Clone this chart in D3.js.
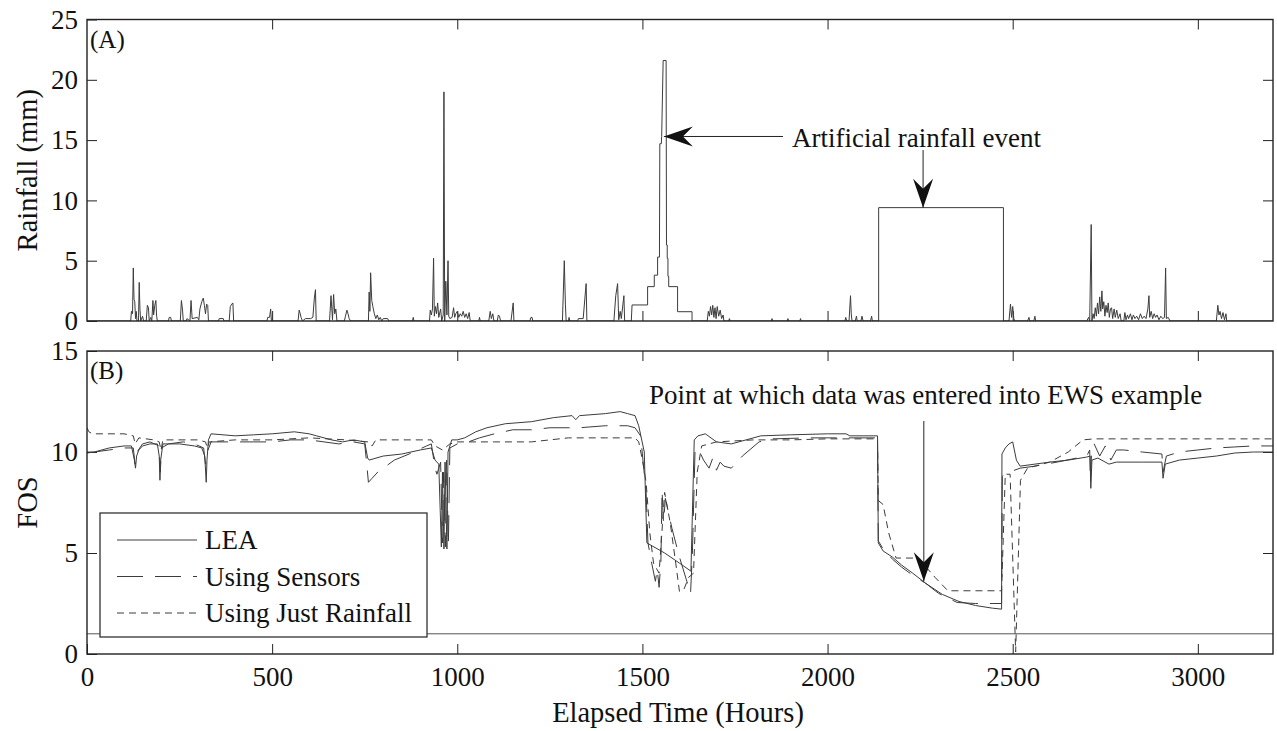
<!DOCTYPE html>
<html lang="en">
<head>
<meta charset="utf-8">
<title>Rainfall and FOS</title>
<script src="https://cdn.jsdelivr.net/npm/d3@7"></script>
<style>
body{
  margin: 0;
  background: #fff;
}
svg text{
  font-family: "Liberation Serif", "Times New Roman", serif;
  font-size: 27px;
  fill: #111;
}
.axis path.domain{ display: none; }
.axis line{ stroke: #222; stroke-width: 1; }
.frame{ fill: none; stroke: #222; stroke-width: 1.4; }
.series{ fill: none; stroke: #3c3c3c; stroke-width: 1; }
.label{ font-size: 28.5px; }
</style>
</head>
<body>
<svg id="chart" width="1277" height="731"></svg>
<script>
// ---- data ----
var xTicks = [0, 500, 1000, 1500, 2000, 2500, 3000];
var rainTicks = [0, 5, 10, 15, 20, 25];
var fosTicks = [0, 5, 10, 15];
var fosLimit = 1;

// rainfall, [hour, mm]
var rainSeries = [
  [0,0],[118,0],[120,0.8],[123,0.6],[125,4.4],[127,1.8],[129,1.6],[131,0.2],[133,0.8],[135,0],
  [139,0],[141,3.2],[143,1.0],[145,0],[150,0.4],[153,0],[160,0],[163,1.3],[166,1.1],[168,0],
  [172,0.3],[175,0],[178,1.7],[180,0.5],[183,1.3],[186,1.7],[188,0.4],[190,0],[220,0],[222,0.3],
  [226,0.3],[228,0],[252,0],[255,1.7],[258,0.9],[260,0],[268,0],[270,0.2],[278,0],[281,1.7],
  [284,0.2],[298,0.3],[302,0.1],[305,1.0],[310,1.6],[314,1.9],[317,1.3],[320,0.6],[323,1.4],
  [326,1.3],[328,0],[355,0],[357,0.2],[368,0.2],[370,0],[384,0],[387,1.2],[391,1.4],[394,1.5],
  [396,0],[486,0],[488,0.3],[493,0.3],[496,1.0],[498,0],[570,0],[573,0.9],[576,0.6],[578,0.3],
  [582,0],[590,0.2],[604,0.2],[610,0.3],[614,1.9],[617,2.6],[619,0],[655,0],[659,2.1],[663,0.1],
  [666,2.2],[669,0.6],[672,1.0],[675,0],[695,0],[698,0.4],[702,0.9],[705,0.6],[708,0.2],[712,0],
  [760,0],[762,2.4],[764,0.8],[766,4.0],[769,1.7],[772,1.2],[776,0.6],[780,0.2],[784,0.5],
  [788,0.1],[792,0.3],[796,0],[800,0.2],[812,0.2],[815,0],[879,0],[881,0.3],[883,0],[925,0],
  [927,0.9],[930,0.5],[933,1.0],[936,5.2],[938,0.4],[941,1.2],[944,0.6],[947,1.5],[950,0.3],
  [955,1.0],[958,0],[962,0.5],[964,19.0],[966,0],[969,3.3],[972,0.5],[975,5.0],[977,0.4],
  [980,0.2],[986,0.3],[990,1.1],[993,0.3],[996,0.6],[1000,0.8],[1004,0.3],[1008,0.6],[1012,0.4],
  [1016,0.8],[1020,0.3],[1024,0.6],[1028,0.2],[1032,0.7],[1035,0],[1058,0],[1060,0.3],[1062,0],
  [1085,0],[1089,0.8],[1092,0.2],[1096,0.6],[1099,0],[1108,0],[1111,0.5],[1114,0.4],[1117,0],
  [1145,0],[1151,1.5],[1153,0],[1196,0],[1199,0.3],[1202,0.3],[1204,0],[1284,0],[1289,5.0],
  [1292,1.4],[1294,0],[1300,0],[1302,0.3],[1304,0],[1325,0],[1327,0.2],[1340,0.2],[1348,3.1],
  [1350,0],[1423,0],[1428,2.1],[1433,3.1],[1436,0.1],[1440,0.8],[1443,0.2],[1450,2.1],[1452,0],
  // artificial event (staircase)
  [1470,0],[1472,1.33],[1514,1.33],[1514,2.85],[1532,2.85],[1532,3.8],[1541,3.8],[1541,5.3],
  [1546,5.3],[1547,14.7],[1551,14.7],[1552,15.3],[1556,21.6],[1564,21.6],[1565,6.3],[1567,6.3],
  [1567,5.2],[1569,5.2],[1569,3.7],[1571,3.7],[1571,2.85],[1595,2.85],[1595,0.77],[1634,0.77],
  [1634,0],
  [1675,0],[1678,0.8],[1681,0.4],[1684,1.2],[1687,0.5],[1690,1.3],[1693,0.3],[1696,1.1],
  [1699,0.2],[1702,1.2],[1706,0.4],[1710,0.9],[1714,0.2],[1718,0.5],[1720,0],[1733,0],[1735,0.2],
  [1737,0],[1848,0],[1850,0.2],[1852,0],[1891,0],[1893,0.2],[1895,0],[1925,0],[1927,0.2],[1929,0],
  [2047,0],[2049,0.3],[2052,0],[2058,0],[2062,2.1],[2064,0.6],[2066,0],[2075,0],[2078,0.4],
  [2080,0],[2090,0],[2093,0.4],[2096,0],[2116,0],[2119,0.4],[2121,0],
  // artificial event (block)
  [2138,0],[2138,9.4],[2475,9.4],[2475,0],
  [2490,0],[2494,1.4],[2497,0.3],[2500,1.2],[2503,0.2],[2506,0],[2540,0],[2544,0.3],[2546,0],
  [2557,0],[2560,0.4],[2562,0],[2700,0],[2705,0.3],[2708,0],[2712,8.0],[2714,0],[2717,0.6],
  [2720,0.2],[2723,1.1],[2726,0.4],[2729,1.5],[2732,0.6],[2735,2.0],[2738,0.8],[2741,2.5],
  [2743,1.0],[2746,1.6],[2749,0.4],[2752,1.3],[2755,0.7],[2758,1.5],[2761,0.3],[2764,1.0],
  [2767,1.1],[2770,0.2],[2774,1.0],[2777,0.3],[2781,0.9],[2785,0.2],[2790,0.6],[2793,0],
  [2800,0],[2803,0.7],[2806,0.1],[2810,0.5],[2813,0.2],[2818,0.6],[2822,0.1],[2826,0.5],
  [2830,0.2],[2835,0.4],[2840,0.1],[2845,0.6],[2850,0.2],[2855,0.4],[2860,0.2],[2865,1.0],
  [2868,2.1],[2870,0.3],[2874,0.8],[2878,0.2],[2882,0.6],[2886,0.3],[2890,0.5],[2895,0.1],
  [2900,0.4],[2905,0.2],[2910,0.3],[2913,4.4],[2915,0.2],[2920,0.3],[2925,0],[3050,0],
  [3054,1.3],[3057,0.5],[3060,0.8],[3064,0.2],[3068,0.7],[3072,0.1],[3076,0.6],[3078,0],[3203,0]
];

// FOS, [hour, FOS]
var leaSeries = [
  [0,9.95],[20,10.0],[60,10.2],[100,10.3],[120,10.3],[128,9.6],[131,9.2],[134,9.8],[140,10.1],
  [150,10.3],[170,10.4],[190,10.4],[195,9.8],[197,8.6],[199,9.6],[205,10.4],[250,10.4],
  [290,10.3],[310,10.2],[318,9.8],[322,8.5],[324,9.6],[328,10.6],[335,10.9],[400,10.8],
  [450,10.85],[500,10.9],[560,11.0],[600,10.9],[620,10.8],[640,10.7],[660,10.6],[690,10.5],
  [720,10.6],[750,10.5],[758,9.7],[762,9.6],[800,9.8],[850,9.9],[900,10.1],[930,10.2],
  [940,9.6],[950,9.4],[957,5.3],[960,9.0],[964,5.2],[967,9.5],[972,5.2],[975,10.0],[985,10.6],
  [1000,10.6],[1020,10.7],[1050,11.0],[1080,11.2],[1130,11.4],[1200,11.5],[1260,11.7],
  [1310,11.8],[1320,11.6],[1330,11.8],[1400,11.9],[1440,12.0],[1460,11.9],[1480,11.8],
  [1490,11.3],[1505,10.0],[1512,5.5],[1560,5.0],[1600,4.5],[1631,4.1],[1640,10.6],[1650,10.8],
  [1670,10.9],[1700,10.5],[1740,10.4],[1780,10.6],[1820,10.8],[1900,10.85],[2000,10.9],
  [2050,10.9],[2060,10.8],[2135,10.8],[2137,5.5],[2150,5.1],[2175,4.8],[2200,4.4],[2230,4.0],
  [2265,3.5],[2310,2.95],[2355,2.6],[2400,2.4],[2445,2.27],[2470,2.22],[2471,9.9],[2480,10.2],
  [2490,10.4],[2500,10.5],[2510,9.6],[2520,9.3],[2560,9.4],[2600,9.5],[2650,9.6],[2700,9.75],
  [2709,9.8],[2711,8.2],[2714,9.6],[2730,9.7],[2760,9.4],[2780,9.5],[2850,9.5],[2903,9.5],
  [2906,8.7],[2912,9.4],[2950,9.6],[3000,9.7],[3050,9.8],[3100,9.95],[3150,10.0],[3203,10.0]
];

var sensorSeries = [
  [0,10.0],[20,10.0],[60,10.1],[100,10.2],[125,10.2],[130,9.4],[135,10.0],[150,10.4],[170,10.5],
  [195,10.3],[198,9.0],[201,10.2],[220,10.4],[260,10.5],[290,10.4],[315,10.2],[320,9.4],
  [325,10.0],[335,10.5],[400,10.5],[450,10.5],[500,10.5],[550,10.6],[600,10.6],[640,10.5],
  [680,10.4],[720,10.5],[750,10.4],[755,9.5],[760,8.5],[770,8.7],[790,9.1],[800,9.2],[830,9.6],
  [870,9.9],[917,10.3],[930,10.4],[940,9.2],[945,8.9],[955,9.5],[960,5.5],[963,9.0],[968,5.3],
  [971,9.6],[976,5.4],[980,10.2],[1000,10.4],[1030,10.5],[1060,10.7],[1100,10.9],[1150,11.1],
  [1200,11.1],[1250,11.2],[1330,11.2],[1400,11.3],[1460,11.3],[1480,11.2],[1495,10.8],
  [1510,8.0],[1515,5.5],[1525,4.5],[1535,3.6],[1540,4.2],[1545,3.3],[1550,4.6],[1553,8.1],
  [1557,6.5],[1562,7.7],[1580,6.2],[1600,4.8],[1620,3.6],[1630,3.0],[1635,5.0],[1642,10.0],
  [1650,10.2],[1665,9.6],[1680,9.2],[1690,9.7],[1700,9.1],[1710,9.5],[1720,9.3],[1740,9.2],
  [1770,9.8],[1815,10.5],[1850,10.65],[1950,10.7],[2050,10.7],[2135,10.7],[2137,5.6],
  [2150,5.2],[2175,4.7],[2200,4.3],[2230,3.9],[2265,3.5],[2300,3.0],[2350,2.55],[2400,2.5],
  [2470,2.5],[2472,8.8],[2490,9.0],[2520,9.2],[2560,9.3],[2620,9.5],[2700,9.8],[2708,10.1],
  [2710,8.5],[2713,10.0],[2720,10.4],[2735,9.8],[2750,10.3],[2765,9.6],[2780,10.1],[2800,10.1],
  [2850,10.0],[2903,9.9],[2906,9.0],[2915,9.8],[2950,10.0],[3000,10.1],[3050,10.2],[3100,10.25],
  [3150,10.3],[3203,10.3]
];

var justRainSeries = [
  [0,11.2],[5,11.0],[15,10.9],[100,10.9],[125,10.8],[130,10.4],[140,10.7],[180,10.6],
  [195,10.5],[200,10.1],[205,10.6],[300,10.6],[320,10.5],[325,10.2],[330,10.5],[400,10.6],
  [500,10.6],[600,10.7],[700,10.6],[760,10.5],[770,10.3],[780,10.6],[900,10.6],[930,10.6],
  [940,10.3],[960,10.1],[980,10.4],[1000,10.5],[1100,10.5],[1200,10.5],[1250,10.6],[1300,10.7],
  [1400,10.7],[1480,10.7],[1490,10.5],[1500,9.6],[1510,8.5],[1520,6.0],[1530,4.5],[1545,4.0],
  [1560,8.0],[1575,6.5],[1590,4.5],[1600,3.1],[1612,3.2],[1625,3.8],[1638,4.0],[1648,9.0],
  [1660,10.3],[1700,10.5],[1800,10.6],[1900,10.6],[2000,10.65],[2135,10.65],[2137,7.6],
  [2150,7.4],[2165,6.0],[2185,4.75],[2245,4.75],[2290,3.8],[2325,3.13],[2470,3.13],[2480,8.9],
  [2493,8.9],[2508,0.1],[2521,8.6],[2540,9.2],[2600,9.5],[2650,10.0],[2690,10.6],[2720,10.65],
  [2800,10.65],[3203,10.65]
];

var legendNames = ["LEA", "Using Sensors", "Using Just Rainfall"];
var legendDash = ["none", "26,12", "7,5"];

// ---- layout ----
var svg = d3.select("#chart");
var left = 87, right = 1273;
var topA = 19.5, botA = 321, topB = 351, botB = 654;

var x = d3.scaleLinear().domain([0, 3203]).range([left, right]);
var yRain = d3.scaleLinear().domain([0, 25]).range([botA, topA]);
var yFos = d3.scaleLinear().domain([0, 15]).range([botB, topB]);

var defs = svg.append("defs");
defs.append("clipPath").attr("id", "clipA").append("rect")
  .attr("x", left).attr("y", topA).attr("width", right - left).attr("height", botA - topA);
defs.append("clipPath").attr("id", "clipB").append("rect")
  .attr("x", left).attr("y", topB).attr("width", right - left).attr("height", botB - topB);

function ticksOnly(axis) { return axis.tickSize(-10).tickSizeOuter(0).tickFormat(""); }

// ---- panel A ----
svg.append("g").attr("class", "axis").attr("transform", "translate(0," + botA + ")")
  .call(ticksOnly(d3.axisBottom(x).tickValues(xTicks.slice(1))));
svg.append("g").attr("class", "axis").attr("transform", "translate(0," + topA + ")")
  .call(ticksOnly(d3.axisTop(x).tickValues(xTicks.slice(1))));
svg.append("g").attr("class", "axis").attr("transform", "translate(" + right + ",0)")
  .call(ticksOnly(d3.axisRight(yRain).tickValues(rainTicks.slice(1, -1))));
svg.append("g").attr("class", "axis").attr("transform", "translate(" + left + ",0)")
  .call(d3.axisLeft(yRain).tickValues(rainTicks).tickFormat(d3.format("d"))
    .tickSize(-10).tickSizeOuter(0).tickPadding(9));

var lineA = d3.line().x(function(d) { return x(d[0]); }).y(function(d) { return yRain(d[1]); });
svg.append("path").datum(rainSeries).attr("class", "series")
  .attr("clip-path", "url(#clipA)").attr("d", lineA);

svg.append("rect").attr("class", "frame")
  .attr("x", left).attr("y", topA).attr("width", right - left).attr("height", botA - topA);

svg.append("text").attr("x", 90).attr("y", 48).style("font-size", "25px").text("(A)");
svg.append("text").attr("class", "label")
  .attr("transform", "translate(37," + ((topA + botA) / 2) + ") rotate(-90)")
  .attr("text-anchor", "middle").text("Rainfall (mm)");

// ---- panel B ----
svg.append("g").attr("class", "axis").attr("transform", "translate(0," + topB + ")")
  .call(ticksOnly(d3.axisTop(x).tickValues(xTicks.slice(1))));
svg.append("g").attr("class", "axis").attr("transform", "translate(" + right + ",0)")
  .call(ticksOnly(d3.axisRight(yFos).tickValues(fosTicks.slice(1, -1))));
svg.append("g").attr("class", "axis").attr("transform", "translate(" + left + ",0)")
  .call(d3.axisLeft(yFos).tickValues(fosTicks).tickFormat(d3.format("d"))
    .tickSize(-10).tickSizeOuter(0).tickPadding(9));
svg.append("g").attr("class", "axis").attr("transform", "translate(0," + botB + ")")
  .call(d3.axisBottom(x).tickValues(xTicks).tickFormat(d3.format("d"))
    .tickSize(-10).tickSizeOuter(0).tickPadding(13));

svg.append("line").attr("class", "series")
  .attr("x1", left).attr("x2", right).attr("y1", yFos(fosLimit)).attr("y2", yFos(fosLimit))
  .style("stroke", "#555");

var lineB = d3.line().x(function(d) { return x(d[0]); }).y(function(d) { return yFos(d[1]); });
var gB = svg.append("g").attr("clip-path", "url(#clipB)");
[leaSeries, sensorSeries, justRainSeries].forEach(function(s, i) {
  gB.append("path").datum(s).attr("class", "series")
    .attr("stroke-dasharray", legendDash[i]).attr("d", lineB);
});

svg.append("rect").attr("class", "frame")
  .attr("x", left).attr("y", topB).attr("width", right - left).attr("height", botB - topB);

svg.append("text").attr("x", 90).attr("y", 379).style("font-size", "25px").text("(B)");
svg.append("text").attr("class", "label")
  .attr("transform", "translate(37," + ((topB + botB) / 2) + ") rotate(-90)")
  .attr("text-anchor", "middle").text("FOS");
svg.append("text").attr("class", "label").attr("x", (left + right) / 2 - 2).attr("y", 722)
  .attr("text-anchor", "middle").text("Elapsed Time (Hours)");

// legend
var lg = svg.append("g").attr("transform", "translate(100,513)");
lg.append("rect").attr("width", 327).attr("height", 124)
  .attr("fill", "#fff").attr("stroke", "#222").attr("stroke-width", 1.2);
legendNames.forEach(function(name, i) {
  var yy = 27 + i * 36.5;
  lg.append("line").attr("class", "series").attr("x1", 17).attr("x2", 97)
    .attr("y1", yy).attr("y2", yy).attr("stroke-dasharray", legendDash[i]);
  lg.append("text").attr("x", 105).attr("y", yy + 9).text(name);
});

// ---- annotations ----
function arrow(x1, y1, x2, y2) {
  var ang = Math.atan2(y2 - y1, x2 - x1) * 180 / Math.PI;
  svg.append("line").attr("x1", x1).attr("y1", y1).attr("x2", x2).attr("y2", y2)
    .attr("stroke", "#222").attr("stroke-width", 1);
  svg.append("path").attr("d", "M0,0 L-29,-10 L-19,0 L-29,10 Z").attr("fill", "#111")
    .attr("transform", "translate(" + x2 + "," + y2 + ") rotate(" + ang + ")");
}

arrow(783, yRain(15.3), x(1558), yRain(15.3));
arrow(x(2258), 150, x(2258), yRain(9.4));
svg.append("text").attr("x", 792).attr("y", 147).text("Artificial rainfall event");

arrow(x(2260), 421, x(2260), yFos(3.6));
svg.append("text").attr("x", 649).attr("y", 404).text("Point at which data was entered into EWS example");
</script>
</body>
</html>
